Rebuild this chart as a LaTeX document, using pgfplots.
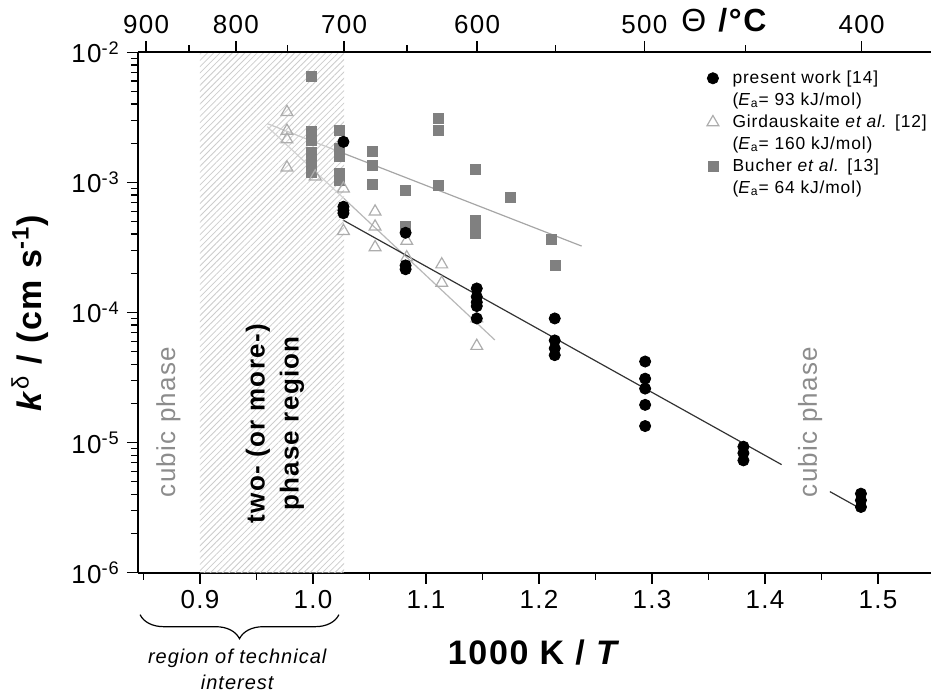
\documentclass[border=0pt]{standalone}
\usepackage{fontspec}
\setmainfont{Liberation Sans}[LetterSpace=5]
\usepackage{pgfplots}
\pgfplotsset{compat=1.18}
\usetikzlibrary{patterns.meta, decorations.pathreplacing, calc}

\pgfplotsset{
    PresentStyle/.style={only marks, mark=*, mark size=2.8pt, color=black, mark options={fill=black}},
    GirdStyle/.style={only marks, mark=triangle, mark size=3.4pt, color=black!32, mark options={fill=white, line width=0.6pt}},
    BucherStyle/.style={only marks, mark=square*, mark size=2.5pt, color=black!50, mark options={fill=black!50}},
    FitStyle/.style={no marks, line width=0.6pt},
}

\begin{document}
\begin{tikzpicture}
\begin{axis}[
    name=main,
    scale only axis, width=396.6pt, height=260.2pt,
    xmin=0.845, xmax=1.547,
    ymode=log, ymin=1e-6, ymax=1e-2,
    axis x line*=bottom, axis y line*=left,
    axis line style={line width=1pt, -},
    tick align=outside,
    major tick length=5.5pt, minor tick length=3.5pt,
    tick style={line width=0.7pt, black},
    ticklabel style={font=\fontsize{13}{15}\selectfont},
    xtick={0.9,1.0,1.1,1.2,1.3,1.4,1.5},
    xticklabels={0.9,1.0,1.1,1.2,1.3,1.4,1.5},
    minor xtick={0.85,0.95,1.05,1.15,1.25,1.35,1.45},
    ytick={1e-6,1e-5,1e-4,1e-3,1e-2},
    yticklabels={10\textsuperscript{-6},10\textsuperscript{-5},10\textsuperscript{-4},10\textsuperscript{-3},10\textsuperscript{-2}},
    minor ytick={2e-6,3e-6,4e-6,5e-6,6e-6,7e-6,8e-6,9e-6,
                 2e-5,3e-5,4e-5,5e-5,6e-5,7e-5,8e-5,9e-5,
                 2e-4,3e-4,4e-4,5e-4,6e-4,7e-4,8e-4,9e-4,
                 2e-3,3e-3,4e-3,5e-3,6e-3,7e-3,8e-3,9e-3},
    xlabel={\bfseries 1000 K / \textit{T}},
    xlabel style={at={(axis description cs:0.5,-0.1525)}, anchor=center, font=\fontsize{17}{20}\selectfont},
    ylabel={\textbf{\textit{k}}\textsuperscript{δ}\textbf{ / (cm s\textsuperscript{-1})}},
    ylabel style={at={(axis description cs:-0.136,0.5)}, anchor=center, rotate=0, font=\fontsize{17}{20}\selectfont},
    clip=false,
    legend image code/.code={\draw[mark repeat=2, mark phase=2, #1] plot coordinates {(0cm,0cm) (0.2cm,0cm) (0.4cm,0cm)}; \path (0cm,0cm) (0.52cm,0cm);},
    legend cell align=left,
    legend style={draw=none, fill=none, at={(axis description cs:0.7097,0.972)}, anchor=north west,
                  inner sep=0pt, row sep=0pt, font=\fontsize{8.7}{10.5}\selectfont,
                  nodes={inner sep=0.5pt, text height=7.6pt, text depth=2.4pt}},
]

% Bucher et al. [13]
\addplot[BucherStyle, forget plot] coordinates {
    (0.999,6.49e-3) (0.999,2.45e-3) (0.999,2.1e-3) (0.999,1.7e-3) (0.999,1.45e-3) (0.999,1.2e-3)
    (1.023,2.51e-3) (1.023,1.83e-3) (1.023,1.58e-3) (1.023,1.17e-3) (1.023,1.04e-3)
    (1.053,1.72e-3) (1.053,1.36e-3) (1.053,9.7e-4)
    (1.082,8.75e-4) (1.082,4.57e-4)
    (1.111,3.09e-3) (1.111,2.53e-3) (1.111,9.44e-4)
    (1.144,1.26e-3) (1.144,5.08e-4) (1.144,4.44e-4) (1.144,4.06e-4)
    (1.175,7.67e-4) (1.211,3.66e-4) (1.215,2.29e-4)
};
\addplot[FitStyle, black!35, forget plot] coordinates {(0.9596,2.83e-3) (1.2378,3.24e-4)};

% Girdauskaite et al. [12]
\addplot[FitStyle, black!28, forget plot] coordinates {(0.9596,2.68e-3) (1.161,6.15e-5)};
\addplot[GirdStyle, forget plot] coordinates {
    (0.977,3.47e-3) (0.977,2.49e-3) (0.977,2.14e-3) (0.977,1.30e-3)
    (1.002,1.11e-3)
    (1.027,8.97e-4) (1.027,4.23e-4)
    (1.055,5.96e-4) (1.055,4.57e-4) (1.055,3.17e-4)
    (1.083,3.55e-4) (1.083,2.65e-4)
    (1.114,2.34e-4) (1.114,1.69e-4)
    (1.145,9.0e-5) (1.145,5.53e-5)
};

% present work [14]
\addplot[FitStyle, black!80, forget plot] coordinates {(1.0265,5.14e-4) (1.4148,6.77e-6)};
\addplot[FitStyle, black!80, forget plot] coordinates {(1.4575,4.20e-6) (1.4811,3.23e-6)};
\addplot[PresentStyle, forget plot] coordinates {
    (1.027,2.05e-3) (1.027,6.5e-4) (1.027,6.1e-4) (1.027,5.8e-4)
    (1.082,4.1e-4) (1.082,2.3e-4) (1.082,2.15e-4)
    (1.145,1.53e-4) (1.145,1.32e-4) (1.145,1.2e-4) (1.145,1.12e-4) (1.145,9.0e-5)
    (1.214,9.0e-5) (1.214,6.1e-5) (1.214,5.3e-5) (1.214,4.7e-5)
    (1.294,4.2e-5) (1.294,3.1e-5) (1.294,2.6e-5) (1.294,1.95e-5) (1.294,1.34e-5)
    (1.381,9.3e-6) (1.381,8.3e-6) (1.381,7.3e-6)
    (1.485,4.05e-6) (1.485,3.6e-6) (1.485,3.2e-6)
};

% hatched two-phase region, laid over the data
\fill[white, fill opacity=0.4] (axis cs:0.9,1e-6) rectangle (axis cs:1.0276,1e-2);
\fill[pattern={Lines[angle=45, distance=2.2pt, line width=0.4pt]}, pattern color=black!20]
    (axis cs:0.9,1e-6) rectangle (axis cs:1.0276,1e-2);

\node[rotate=90, text=black!45, font=\fontsize{13}{15}\selectfont] at (axis cs:0.872,1.44e-5) {cubic phase};
\node[rotate=90, text=black!45, font=\fontsize{13}{15}\selectfont] at (axis cs:1.44,1.44e-5) {cubic phase};
\node[rotate=90, align=center, font=\bfseries\fontsize{13}{17}\selectfont] at (axis cs:0.9664,1.4e-5) {two- (or more-)\\phase region};

% brace below the axis
\draw[decorate, decoration={brace, mirror, amplitude=12pt}, line width=0.6pt]
    ([yshift=-21pt]axis cs:0.847,1e-6) -- ([yshift=-21pt]axis cs:1.023,1e-6);
\node[align=center, font=\itshape\fontsize{10}{13}\selectfont] at ([yshift=-48.5pt]axis cs:0.933,1e-6) {region of technical\\interest};

\node[font=\fontsize{16}{19}\selectfont] at (axis description cs:0.74,1.062) {Θ \textbf{/°C}};

\addlegendimage{PresentStyle}
\addlegendentry{present work [14]}
\addlegendimage{empty legend}
\addlegendentry{(\textit{E}\textsubscript{a}= 93 kJ/mol)}
\addlegendimage{GirdStyle}
\addlegendentry{Girdauskaite \textit{et al.} [12]}
\addlegendimage{empty legend}
\addlegendentry{(\textit{E}\textsubscript{a}= 160 kJ/mol)}
\addlegendimage{BucherStyle}
\addlegendentry{Bucher \textit{et al.} [13]}
\addlegendimage{empty legend}
\addlegendentry{(\textit{E}\textsubscript{a}= 64 kJ/mol)}
\end{axis}

% top temperature axis
\begin{axis}[
    scale only axis, width=396.6pt, height=260.2pt,
    xmin=0.845, xmax=1.547, ymin=0, ymax=1,
    axis x line*=top, axis y line=none,
    axis line style={line width=1pt, -},
    tick align=outside,
    major tick length=5.5pt, minor tick length=3.5pt,
    tick style={line width=0.7pt, black},
    ticklabel style={font=\fontsize{13}{15}\selectfont},
    xtick={0.85241,0.93183,1.02760,1.14528,1.29341,1.48559},
    xticklabels={900,800,700,600,500,400},
    minor xtick={0.89035,0.97729,1.08325,1.21485,1.38284},
]
\end{axis}

\pgfresetboundingbox
\path[use as bounding box] ($(main.south west)+(-68.9pt,-61.65pt)$) rectangle ($(main.north east)+(0pt,26.15pt)$);
\end{tikzpicture}
\end{document}
